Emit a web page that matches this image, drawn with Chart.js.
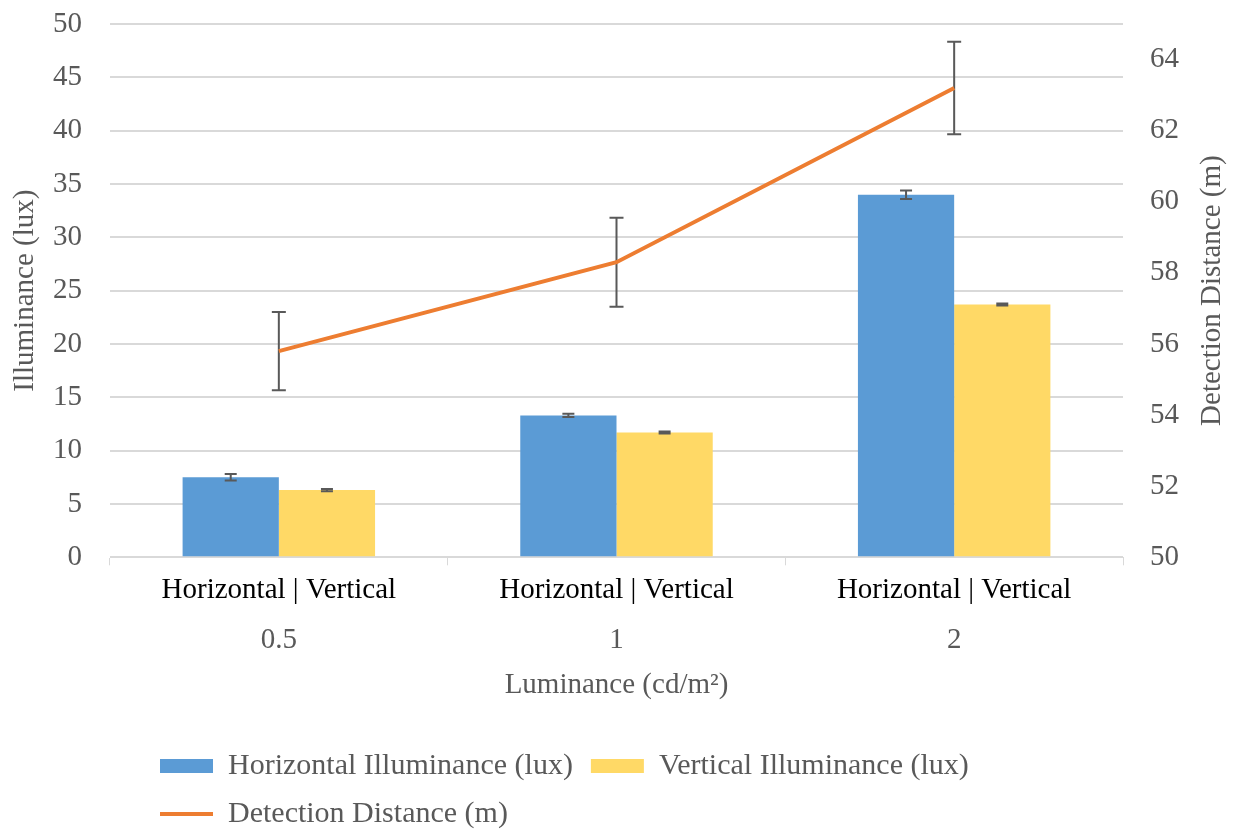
<!DOCTYPE html>
<html>
<head>
<meta charset="utf-8">
<script src="https://cdn.jsdelivr.net/npm/chart.js@4.4.0/dist/chart.umd.min.js"></script>
<style>
  html, body { margin: 0; padding: 0; background: #fff; }
  #wrap { width: 1237px; height: 829px; }
</style>
</head>
<body>
<div id="wrap"><canvas id="c"></canvas></div>
<script>
// values
var luminance = ['0.5', '1', '2'];
var pairLabels = ['Horizontal | Vertical', 'Horizontal | Vertical', 'Horizontal | Vertical'];
var horizontal = [7.5, 13.3, 34.0];
var horizontalErr = [0.3, 0.15, 0.4];
var vertical = [6.3, 11.7, 23.7];
var verticalErr = [0.1, 0.1, 0.1];
var distance = [55.8, 58.3, 63.2];
var distanceErr = [1.1, 1.25, 1.3];
var illumTicks = [0, 5, 10, 15, 20, 25, 30, 35, 40, 45, 50];
var distTicks = [50, 52, 54, 56, 58, 60, 62, 64];

var serif = 'Liberation Serif, Times New Roman, serif';
var grey = '#595959';
var fs = 29;
var legendIndent = 134;

// draws the error bars through the chart scales
var errorBars = {
  id: 'errorBars',
  beforeDatasetDraw: function(chart, args) {
    var ds = chart.data.datasets[args.index];
    if (ds.errors && ds.errorsUnder) drawErrors(chart, args.index);
  },
  afterDatasetDraw: function(chart, args) {
    var ds = chart.data.datasets[args.index];
    if (ds.errors && !ds.errorsUnder) drawErrors(chart, args.index);
  }
};

function drawErrors(chart, i) {
  var ds = chart.data.datasets[i];
  var meta = chart.getDatasetMeta(i);
  var scale = chart.scales[meta.yAxisID];
  var ctx = chart.ctx;
  ctx.save();
  ctx.strokeStyle = grey;
  ctx.lineWidth = 2;
  meta.data.forEach(function(el, j) {
    var top = scale.getPixelForValue(ds.data[j] + ds.errors[j]);
    var bot = scale.getPixelForValue(ds.data[j] - ds.errors[j]);
    var w = ds.capWidth;
    ctx.beginPath();
    ctx.moveTo(el.x, top); ctx.lineTo(el.x, bot);
    ctx.moveTo(el.x - w, top); ctx.lineTo(el.x + w, top);
    ctx.moveTo(el.x - w, bot); ctx.lineTo(el.x + w, bot);
    ctx.stroke();
  });
  ctx.restore();
}

// excel puts the legend rows at the left, not centred
var legendShift = {
  id: 'legendShift',
  beforeLayout: function(chart) {
    var lg = chart.legend;
    if (lg && !lg._indentPatched) {
      var fitRows = lg._fitRows;
      lg._fitRows = function() {
        var mw = this.maxWidth;
        this.maxWidth = mw - legendIndent;
        var h = fitRows.apply(this, arguments);
        this.maxWidth = mw;
        return h - 10;
      };
      lg._indentPatched = true;
    }
  },
  afterLayout: function(chart) {
    chart.legend.left = chart.legend.left + legendIndent;
  }
};

// right axis title reads bottom to top in the original
var rightTitle = {
  id: 'rightTitle',
  afterDraw: function(chart) {
    var s = chart.scales.y1;
    var ctx = chart.ctx;
    ctx.save();
    ctx.translate(s.right - fs * 0.6, (s.top + s.bottom) / 2);
    ctx.rotate(-Math.PI / 2);
    ctx.font = fs + 'px ' + serif;
    ctx.fillStyle = grey;
    ctx.textAlign = 'center';
    ctx.textBaseline = 'middle';
    ctx.fillText(s.options.title.text, 0, 0);
    ctx.restore();
  }
};

var data = {
  labels: luminance,
  datasets: [
    {
      type: 'bar',
      label: 'Horizontal Illuminance (lux)',
      data: horizontal,
      errors: horizontalErr,
      capWidth: 6,
      backgroundColor: '#5b9bd5',
      pointStyle: 'rect',
      yAxisID: 'y',
      xAxisID: 'x',
      order: 1
    },
    {
      type: 'bar',
      label: 'Vertical Illuminance (lux)',
      data: vertical,
      errors: verticalErr,
      capWidth: 6,
      backgroundColor: '#ffd966',
      pointStyle: 'rect',
      yAxisID: 'y',
      xAxisID: 'x',
      order: 1
    },
    {
      type: 'line',
      label: 'Detection Distance (m)',
      data: distance,
      errors: distanceErr,
      errorsUnder: true,
      capWidth: 7,
      borderColor: '#ed7d31',
      backgroundColor: '#ed7d31',
      borderWidth: 4,
      pointRadius: 0,
      pointStyle: 'line',
      tension: 0,
      yAxisID: 'y1',
      xAxisID: 'x',
      order: 0
    }
  ]
};

var config = {
  data: data,
  plugins: [errorBars, legendShift, rightTitle],
  options: {
    responsive: true,
    maintainAspectRatio: false,
    animation: false,
    layout: { padding: { top: 0, left: 8, right: 7, bottom: 0 } },
    datasets: {
      bar: { categoryPercentage: 0.57, barPercentage: 1.0 }
    },
    plugins: {
      tooltip: { enabled: false },
      legend: {
        position: 'bottom',
        align: 'start',
        labels: {
          usePointStyle: true,
          pointStyleWidth: 53,
          boxHeight: 14,
          padding: 18,
          color: grey,
          font: { family: serif, size: 30 },
          sort: function(a, b) { return a.datasetIndex - b.datasetIndex; }
        }
      }
    },
    scales: {
      x: {
        type: 'category',
        position: 'bottom',
        offset: true,
        grid: { offset: true, drawOnChartArea: false, tickLength: 8, color: '#d9d9d9' },
        border: { color: '#d9d9d9' },
        ticks: {
          color: '#000',
          padding: 11,
          font: { family: serif, size: fs, lineHeight: 1.0 },
          callback: function(v, i) { return pairLabels[i]; }
        }
      },
      x2: {
        type: 'category',
        position: 'bottom',
        labels: luminance,
        offset: true,
        grid: { display: false },
        border: { display: false },
        ticks: { color: grey, padding: 0, font: { family: serif, size: fs, lineHeight: 1.1 } },
        title: {
          display: true,
          text: 'Luminance (cd/m\u00b2)',
          color: grey,
          padding: { top: 12, bottom: 30 },
          font: { family: serif, size: fs }
        }
      },
      y: {
        position: 'left',
        min: 0,
        max: 50,
        afterBuildTicks: function(axis) {
          axis.ticks = illumTicks.map(function(v) { return { value: v }; });
        },
        afterFit: function(axis) {
          axis.width = 102;
          axis.paddingTop = 24;
        },
        grid: { color: '#d9d9d9', lineWidth: 2, drawTicks: false },
        border: { display: false },
        ticks: { color: grey, padding: 28, font: { family: serif, size: fs } },
        title: {
          display: true,
          text: 'Illuminance (lux)',
          color: grey,
          padding: 0,
          font: { family: serif, size: fs }
        }
      },
      y1: {
        position: 'right',
        min: 50,
        max: 65,
        afterBuildTicks: function(axis) {
          axis.ticks = distTicks.map(function(v) { return { value: v }; });
        },
        afterFit: function(axis) {
          axis.width = 107;
          axis.paddingTop = 24;
        },
        grid: { drawOnChartArea: false, drawTicks: false },
        border: { display: false },
        ticks: { color: grey, padding: 27, font: { family: serif, size: fs } },
        title: {
          display: true,
          text: 'Detection Distance (m)',
          color: 'rgba(0,0,0,0)',
          padding: 0,
          font: { family: serif, size: fs }
        }
      }
    }
  }
};

var ctx = document.getElementById('c');
var chart = new Chart(ctx, config);
</script>
</body>
</html>
